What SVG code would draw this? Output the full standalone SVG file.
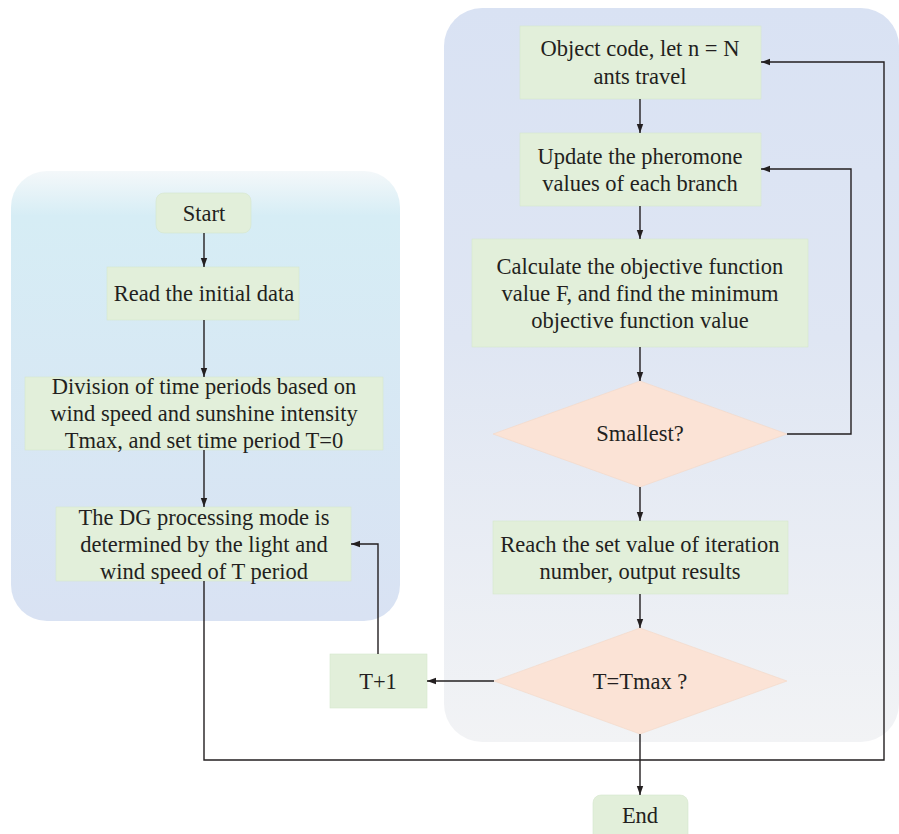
<svg xmlns="http://www.w3.org/2000/svg" width="899" height="834" viewBox="0 0 899 834">
<defs>
<linearGradient id="gl" x1="0" y1="0" x2="0" y2="1">
<stop offset="0" stop-color="#f4f8fa"/>
<stop offset="0.1" stop-color="#d6edf5"/>
<stop offset="1" stop-color="#d9e2f3"/>
</linearGradient>
<linearGradient id="gr" x1="0" y1="0" x2="0" y2="1">
<stop offset="0" stop-color="#d9e2f3"/>
<stop offset="0.45" stop-color="#dfe6f3"/>
<stop offset="1" stop-color="#f2f3f5"/>
</linearGradient>
<marker id="ah" markerWidth="10" markerHeight="8" refX="9" refY="4" orient="auto" markerUnits="userSpaceOnUse">
<path d="M0,0.8 L9,4 L0,7.2 Z" fill="#231f20"/>
</marker>
<style>
.box{fill:#e2efda;stroke:#d5e6cc;stroke-width:0.6}
.dia{fill:#fbe3d6;stroke:#f3d6c6;stroke-width:0.6}
.t{font-family:"Liberation Serif","Times New Roman",serif;font-size:22.5px;fill:#231f20;text-anchor:middle}
.c{fill:none;stroke:#231f20;stroke-width:1.4}
</style>
</defs>
<rect x="11" y="171" width="389" height="450" rx="36" fill="url(#gl)"/>
<rect x="444" y="8" width="455" height="734" rx="38" fill="url(#gr)"/>

<g id="start"><rect class="box" x="156" y="193" width="95" height="40" rx="8"/><text class="t" x="204" y="221">Start</text></g>
<g id="read"><rect class="box" x="107" y="267" width="192" height="53"/><text class="t" x="204" y="301">Read the initial data</text></g>
<g id="division"><rect class="box" x="25" y="377" width="358" height="73"/>
<text class="t" x="204" y="394">Division of time periods based on</text>
<text class="t" x="204" y="421">wind speed and sunshine intensity</text>
<text class="t" x="204" y="448">Tmax, and set time period T=0</text></g>
<g id="dg"><rect class="box" x="56" y="507" width="295" height="74"/>
<text class="t" x="204" y="525">The DG processing mode is</text>
<text class="t" x="204" y="552">determined by the light and</text>
<text class="t" x="204" y="579">wind speed of T period</text></g>
<g id="tplus"><rect class="box" x="330" y="654" width="97" height="54"/><text class="t" x="378" y="689">T+1</text></g>

<g id="object"><rect class="box" x="520" y="26" width="241" height="73"/>
<text class="t" x="640" y="56">Object code, let n = N</text>
<text class="t" x="640" y="84">ants travel</text></g>
<g id="update"><rect class="box" x="520" y="133" width="241" height="73"/>
<text class="t" x="640" y="164">Update the pheromone</text>
<text class="t" x="640" y="191">values of each branch</text></g>
<g id="calc"><rect class="box" x="472" y="239" width="336" height="108"/>
<text class="t" x="640" y="274">Calculate the objective function</text>
<text class="t" x="640" y="301">value F, and find the minimum</text>
<text class="t" x="640" y="328">objective function value</text></g>
<g id="smallest"><polygon class="dia" points="640,381 787,434 640,487 493,434"/><text class="t" x="640" y="441">Smallest?</text></g>
<g id="reach"><rect class="box" x="493" y="521" width="295" height="73"/>
<text class="t" x="640" y="552">Reach the set value of iteration</text>
<text class="t" x="640" y="579">number, output results</text></g>
<g id="tmax"><polygon class="dia" points="640,628 787,681 640,734 494,681"/><text class="t" x="640" y="689">T=Tmax ?</text></g>
<g id="end"><rect class="box" x="593" y="795" width="95" height="48" rx="8"/><text class="t" x="640" y="823">End</text></g>

<g id="connectors">
<path class="c" d="M204,233 V267" marker-end="url(#ah)"/>
<path class="c" d="M204,320 V377" marker-end="url(#ah)"/>
<path class="c" d="M204,450 V507" marker-end="url(#ah)"/>
<path class="c" d="M204,581 V760 H884 V62 H761" marker-end="url(#ah)"/>
<path class="c" d="M640,99 V133" marker-end="url(#ah)"/>
<path class="c" d="M640,206 V239" marker-end="url(#ah)"/>
<path class="c" d="M640,347 V381" marker-end="url(#ah)"/>
<path class="c" d="M787,434 H851 V169 H761" marker-end="url(#ah)"/>
<path class="c" d="M640,487 V521" marker-end="url(#ah)"/>
<path class="c" d="M640,594 V628" marker-end="url(#ah)"/>
<path class="c" d="M494,681 H427" marker-end="url(#ah)"/>
<path class="c" d="M378,654 V544 H351" marker-end="url(#ah)"/>
<path class="c" d="M640,734 V795" marker-end="url(#ah)"/>
</g>
</svg>
